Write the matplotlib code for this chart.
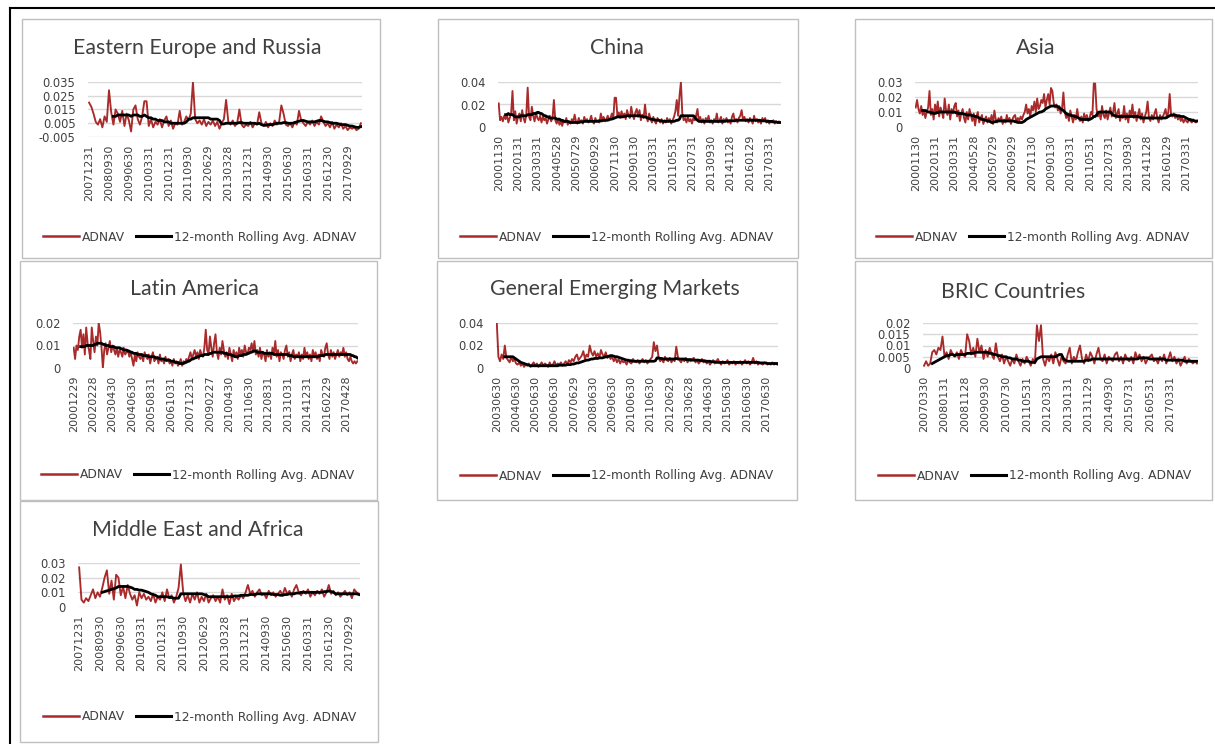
import numpy as np
import matplotlib
matplotlib.use('Agg')
import matplotlib.pyplot as plt
from matplotlib.patches import Rectangle
from matplotlib.lines import Line2D

# ---------------- data (values in units of 0.001) ----------------
# Eastern Europe and Russia (monthly from 2007-12)
adnav_ee = [20, 17, 12, 6, 4, 8, 2, 10, 6, 29,
            13, 4, 15, 12, 6, 14, 3, 12, 7, -1,
            15, 18, 8, 4, 10, 21, 21, 3, 8, 2,
            6, 4, 8, 2, 7, 10, 3, 7, 1, 5,
            4, 14, 4, 6, 10, 7, 12, 35, 8, 5,
            7, 4, 8, 3, 6, 4, 7, 3, 6, 1,
            5, 8, 22, 6, 4, 7, 3, 5, 15, 4,
            2, 4, 3, 6, 2, 5, 4, 13, 5, 3,
            6, 2, 5, 3, 7, 4, 6, 18, 12, 4,
            3, 5, 2, 6, 4, 14, 7, 5, 3, 6,
            4, 7, 3, 6, 4, 10, 6, 3, 5, 2,
            6, 1, 4, 2, 5, 1, 3, 0, 2, 1,
            2, 0, 1, 5]
roll_ee = [10, 10, 11, 11, 11, 11, 11, 11, 10,
           11, 11, 11, 10, 10, 11, 10, 9, 9, 8,
           8, 7, 7, 7, 6, 6, 6, 5, 5, 5,
           5, 5, 5, 5, 6, 8, 8, 9, 9, 9,
           9, 9, 9, 9, 9, 8, 8, 8, 8, 7,
           4.5, 4.5, 5, 5, 5, 5, 5, 5, 5.5, 5.5,
           5, 5, 5, 5, 5, 5, 4.5, 5, 4, 3.5,
           3.5, 4, 4, 4, 4.5, 5, 5, 5, 5.5, 5.5,
           5, 5, 5, 5.5, 6, 6.5, 7, 7, 6.5, 6,
           6, 6, 6, 6.5, 7, 7, 6.5, 6, 6, 5.5,
           5, 5, 5, 4.5, 4, 4, 4, 3.5, 3, 3,
           2.5, 2, 2, 2.5]

# China (monthly from 2000-11)
adnav_cn = [21, 6, 9, 5, 10, 7, 11, 4, 8, 12,
            32, 6, 14, 3, 9, 12, 5, 15, 8, 4,
            11, 35, 9, 6, 18, 10, 5, 13, 8, 6,
            10, 4, 9, 6, 8, 3, 7, 10, 5, 8,
            24, 6, 3, 7, 2, 5, 1, 6, 4, 8,
            2, 5, 3, 7, 4, 11, 5, 3, 8, 4,
            6, 3, 9, 5, 7, 4, 6, 10, 5, 3,
            8, 5, 6, 4, 12, 6, 9, 5, 7, 10,
            6, 8, 12, 7, 26, 26, 10, 13, 8, 14,
            9, 12, 7, 15, 10, 8, 18, 11, 7, 13,
            16, 9, 15, 6, 11, 8, 20, 9, 5, 12,
            7, 4, 9, 5, 3, 8, 6, 4, 7, 3,
            6, 4, 8, 5, 7, 3, 6, 9, 14, 24,
            10, 28, 40, 12, 6, 8, 4, 9, 5, 7,
            3, 8, 6, 10, 16, 5, 9, 4, 7, 3,
            8, 5, 10, 4, 6, 3, 7, 5, 12, 4,
            6, 9, 3, 7, 5, 8, 4, 6, 3, 9,
            12, 5, 7, 4, 8, 10, 15, 6, 9, 5,
            7, 4, 8, 6, 3, 10, 5, 7, 4, 6,
            3, 8, 5, 8, 4, 6, 3, 5, 4, 6,
            3, 5, 4, 5, 4]
roll_cn = [11, 11, 12, 11, 11,
           11, 10, 9, 9, 9, 9, 10, 10, 10, 10,
           10, 11, 11, 11, 11, 12, 12, 12, 13, 13,
           12, 12, 11, 10, 10, 9, 9, 8, 8, 8,
           8, 8, 7, 7, 7, 6, 6, 5, 5, 5,
           5, 4.5, 4, 4, 4, 4, 4, 4, 4, 4.5,
           4.5, 4.5, 5, 5, 5, 5, 5, 5, 5, 5,
           5, 5, 5, 5.5, 5.5, 5.5, 6, 6, 6, 6,
           6.5, 7, 7, 7.5, 8, 8.5, 9, 9, 9, 9,
           9, 9.5, 9.5, 10, 10, 10, 10, 10, 10, 10,
           10, 10, 10, 9.5, 9.5, 9, 9, 8.5, 8, 7.5,
           7, 7, 6.5, 6.5, 6, 6, 6, 5.5, 5.5, 5,
           5, 5, 5, 5, 5, 5, 5, 5, 5.5, 6,
           6, 7, 10, 10, 10, 10, 10, 10, 10, 10,
           10, 10, 9, 7, 6, 5, 5, 5, 5, 5,
           5, 5, 5, 5, 5, 5, 5, 5, 5, 5,
           5, 5, 5, 5, 5, 5.5, 5.5, 5.5, 5.5, 5.5,
           5.5, 5.5, 6, 6, 6, 6, 6, 6, 6, 6,
           6, 6, 6, 6, 6, 6, 6, 6, 6, 6,
           5.5, 5.5, 5.5, 5.5, 5, 5, 5, 5, 5, 4.5,
           4.5, 4.5, 4, 4, 4]

# Asia (monthly from 2000-11)
adnav_as = [13, 18, 12, 9, 14, 8, 11, 6, 10, 13,
            24, 8, 12, 5, 15, 9, 17, 7, 13, 10,
            6, 19, 11, 8, 15, 5, 12, 9, 14, 16,
            7, 11, 4, 9, 12, 6, 3, 10, 5, 12,
            8, 4, 9, 1, 7, 10, 3, 6, 8, 2,
            5, 7, 3, 6, 4, 8, 2, 11, 5, 3,
            6, 4, 7, 2, 5, 3, 8, 4, 6, 2,
            5, 7, 8, 3, 6, 4, 7, 5, 8, 10,
            15, 9, 12, 7, 14, 11, 17, 10, 19, 12,
            14, 18, 16, 22, 13, 18, 22, 15, 26, 24,
            16, 13, 15, 11, 14, 9, 12, 23, 10, 6,
            9, 4, 11, 7, 3, 8, 5, 12, 6, 4,
            7, 3, 9, 5, 8, 4, 6, 10, 8, 29,
            29, 12, 7, 10, 5, 14, 8, 6, 11, 5,
            9, 13, 7, 10, 16, 6, 9, 12, 4, 8,
            6, 14, 5, 9, 3, 11, 7, 15, 6, 10,
            4, 8, 12, 5, 9, 3, 7, 10, 17, 6,
            4, 8, 5, 9, 12, 6, 3, 8, 5, 7,
            9, 12, 6, 10, 22, 8, 7, 9, 6, 8,
            5, 7, 4, 6, 3, 5, 4, 3, 5, 4,
            3, 5, 4, 3, 4]
roll_as = [11, 11, 11, 10.5, 10,
           10, 9.5, 9.5, 9, 9, 9.5, 9.5, 10, 10, 10,
           10, 10, 10, 10, 10, 10, 10, 10, 10, 9.5,
           9.5, 9, 9, 9, 9, 8.5, 8.5, 8, 8, 8,
           8, 7.5, 7.5, 7, 7, 6.5, 6, 5.5, 5, 5,
           4.5, 4.5, 4, 4, 3.5, 3, 3, 3.5, 3.5, 4,
           4, 4, 4, 4, 4, 4, 4, 4, 4, 4,
           4, 4, 3.5, 3.5, 3, 3, 3, 3, 3.5, 4,
           5, 5.5, 6, 6.5, 7, 7.5, 8, 8.5, 9, 9.5,
           10, 10, 10.5, 11, 12, 12.5, 13, 13.5, 14, 14,
           14, 14, 14, 13.5, 13, 12, 11.5, 11, 10, 9,
           8.5, 8, 8, 7.5, 7.5, 7, 7, 6.5, 6, 5.5,
           5, 5, 5, 5, 5, 5, 5, 5.5, 6, 7,
           7, 8, 9.5, 10, 10, 10, 10, 10, 10, 10,
           10, 10, 9, 8, 7.5, 7.5, 7, 7, 7, 7,
           7, 7, 7, 7, 7, 7, 7, 7, 7, 7,
           7, 7, 6.5, 6.5, 6, 6, 6, 6, 6, 6,
           6, 6, 6, 6, 6, 6, 6, 6, 6, 6,
           6, 6, 6.5, 7, 7.5, 8, 8, 8, 8, 7.5,
           7.5, 7.5, 7, 7, 7, 6.5, 6, 5.5, 5, 5,
           4.5, 4.5, 4, 4, 4]

# Latin America (monthly from 2000-12)
adnav_la = [9, 4, 10, 8, 14, 17, 9, 15, 6, 18,
            11, 8, 4, 18, 12, 7, 14, 10, 20, 16,
            9, 0, 8, 11, 6, 9, 12, 7, 10, 8,
            6, 9, 5, 8, 7, 5, 9, 6, 7, 8,
            5, 7, 4, 1, 6, 3, 7, 5, 4, 6,
            3, 7, 5, 4, 6, 2, 5, 7, 3, 4,
            5, 2, 6, 3, 4, 2, 5, 3, 4, 2,
            3, 1, 4, 2, 3, 1, 2, 4, 1, 3,
            2, 4, 3, 5, 7, 4, 6, 8, 5, 7,
            4, 8, 6, 5, 9, 17, 8, 6, 14, 9,
            5, 11, 15, 7, 4, 9, 6, 12, 8, 5,
            7, 4, 9, 6, 3, 8, 5, 7, 4, 9,
            6, 8, 5, 10, 7, 6, 9, 8, 11, 7,
            12, 6, 8, 5, 9, 4, 7, 6, 3, 8,
            5, 7, 4, 9, 6, 12, 5, 8, 3, 7,
            6, 4, 8, 10, 5, 7, 3, 6, 8, 4,
            6, 5, 7, 3, 6, 4, 9, 5, 7, 4,
            6, 3, 8, 5, 7, 4, 6, 3, 8, 6,
            5, 9, 11, 6, 4, 8, 5, 7, 4, 6,
            8, 5, 7, 6, 9, 5, 7, 4, 3, 5,
            3, 2, 3, 2, 3]
roll_la = [9.5, 9.5, 9.5, 9.5, 10,
           10, 10, 10, 10, 10, 10.5, 10.5, 11, 11, 11,
           11, 10.5, 10.5, 10, 10, 10, 9.5, 9.5, 9.5, 9.5,
           9, 9, 9, 9, 8.5, 8.5, 8, 8, 8, 7.5,
           7.5, 7, 7, 6.5, 6.5, 6.5, 6, 6, 6, 6,
           5.5, 5.5, 5.5, 5.5, 5, 5, 5, 5, 5, 4.5,
           4.5, 4.5, 4, 4, 4, 4, 3.5, 3.5, 3.5, 3.5,
           3, 3, 3, 2.5, 2.5, 2.5, 2, 2, 2, 2,
           2.5, 2.5, 3, 3, 3.5, 4, 4, 4.5, 4.5, 5,
           5, 5.5, 5.5, 5.5, 6, 6, 6, 6, 6.5, 6.5,
           7, 7, 7, 7, 7, 7, 7, 7, 6.5, 6.5,
           6.5, 6, 6, 6, 5.5, 5.5, 5, 5, 5, 5.5,
           5.5, 5.5, 6, 6, 6, 6.5, 6.5, 7, 7, 7.5,
           7.5, 7.5, 7, 7, 7, 7, 7, 6.5, 6.5, 6.5,
           6.5, 6.5, 6.5, 6.5, 6, 6, 6, 6, 6, 6,
           6, 6, 6, 6, 6, 5.5, 5.5, 5.5, 5, 5,
           5, 5, 5, 5, 5, 5, 5, 5, 5, 5,
           5, 5, 5, 5, 5, 5, 5, 5.5, 5.5, 5.5,
           5.5, 6, 6, 6, 6, 6, 6, 6, 6, 6,
           6, 6, 6, 6, 6, 6, 6, 6, 6, 6,
           5.5, 5.5, 5, 5, 4.5]

# General Emerging Markets (monthly from 2003-06)
adnav_gem = [40, 10, 6, 12, 8, 20, 9, 7, 5, 10,
             6, 8, 4, 3, 5, 2, 4, 1, 3, 2,
             4, 1, 3, 5, 2, 4, 1, 3, 5, 2,
             4, 3, 1, 5, 2, 3, 6, 2, 4, 3,
             5, 2, 4, 6, 3, 7, 5, 8, 6, 10,
             12, 7, 9, 11, 15, 8, 12, 10, 20, 14,
             11, 15, 10, 13, 9, 16, 12, 10, 14, 9,
             11, 8, 10, 6, 9, 5, 8, 4, 7, 5,
             6, 3, 7, 5, 4, 8, 6, 5, 7, 4,
             6, 8, 5, 7, 4, 6, 8, 10, 23, 15,
             20, 9, 6, 8, 5, 10, 7, 6, 9, 5,
             8, 6, 19, 10, 7, 5, 8, 6, 9, 5,
             7, 6, 8, 9, 5, 7, 4, 6, 8, 5,
             7, 4, 6, 3, 5, 7, 4, 6, 8, 5,
             3, 6, 4, 5, 7, 3, 5, 4, 6, 3,
             5, 4, 6, 3, 5, 7, 4, 6, 3, 5,
             9, 4, 6, 3, 5, 4, 3, 5, 4, 3,
             4, 3, 5, 3, 4, 3]
roll_gem = [10, 10, 10, 10, 10,
            10, 9, 8, 7, 6, 5, 4.5, 4, 3.5, 3,
            2.5, 2, 2, 2, 2, 2, 2, 2, 2, 2,
            2, 2, 2, 2, 2, 2, 2, 2, 2, 2.5,
            2.5, 2.5, 2.5, 2.5, 3, 3, 3, 3.5, 3.5, 4,
            4.5, 4.5, 5, 5.5, 6, 6.5, 7, 7, 7.5, 8,
            8, 8.5, 8.5, 8.5, 9, 9, 9, 9.5, 10, 10,
            10.5, 11, 11, 10.5, 10, 10, 9.5, 9, 8.5, 8,
            7.5, 7, 7, 6.5, 6.5, 6, 6, 6, 6, 6,
            6, 6, 6, 6, 6, 6, 6, 6, 6, 6.5,
            9, 9, 8.5, 8.5, 8, 8, 8, 8, 8, 8,
            8, 8, 8.5, 8, 8, 8, 8, 8, 7.5, 7.5,
            7.5, 7.5, 7, 7, 7, 7, 7, 6.5, 6.5, 6.5,
            6, 6, 6, 6, 5.5, 5.5, 5.5, 5, 5, 5,
            5, 5, 5, 5, 5, 5, 5, 5, 5, 5,
            5, 5, 5, 5, 5, 5, 5, 5, 5, 5,
            5, 5, 5, 5, 4.5, 4.5, 4.5, 4.5, 4.5, 4,
            4, 4, 4, 4, 4, 4]

# BRIC Countries (monthly from 2007-03)
adnav_bric = [1, 3, 1, 2, 7, 8, 6, 9, 8, 14,
              5, 7, 4, 8, 6, 5, 7, 4, 8, 6,
              5, 15, 12, 6, 9, 5, 13, 7, 10, 4,
              8, 5, 9, 6, 4, 11, 5, 3, 6, 2,
              5, 3, 1, 4, 2, 6, 3, 1, 4, 2,
              5, 3, 1, 4, 2, 19, 12, 19, 4, 1,
              5, 3, 6, 2, 7, 4, 1, 5, 3, 2,
              6, 9, 2, 5, 3, 7, 10, 4, 2, 6,
              3, 7, 5, 2, 6, 9, 4, 3, 6, 2,
              5, 4, 3, 6, 7, 3, 5, 2, 6, 4,
              3, 5, 2, 7, 4, 6, 3, 5, 2, 4,
              5, 6, 3, 4, 2, 5, 3, 6, 2, 4,
              7, 3, 5, 2, 4, 1, 3, 5, 2, 4,
              3, 2, 3, 2]
roll_bric = [2, 2.5, 3, 3.5, 4, 4.5,
             5, 5.5, 5.5, 6, 6, 5.5, 6, 6, 6, 6,
             6, 6.5, 6.5, 6.5, 6.5, 7, 7, 7, 7, 7,
             7, 7, 6.5, 6.5, 6, 6, 5.5, 5.5, 5, 5,
             5, 4.5, 4.5, 4, 4, 4, 3.5, 3.5, 3, 3,
             3, 3, 2.5, 2.5, 2.5, 4, 4.5, 5, 5, 5,
             5, 5, 5, 5, 5, 5.5, 6, 6, 4, 3.5,
             3, 3, 3, 3, 3, 3, 3, 3, 3, 3.5,
             3.5, 3.5, 4, 4, 4, 4, 4, 4, 4, 4,
             4, 4, 4, 4, 4, 4, 4, 4, 4, 4,
             4, 4, 4, 4, 4, 4.5, 4.5, 4.5, 4.5, 4.5,
             4, 4, 4, 4, 4, 4, 4, 4, 3.5, 3.5,
             3.5, 3.5, 3.5, 3.5, 3.5, 3.5, 3.5, 3, 3, 3,
             3, 3, 3, 3]

# Middle East and Africa (monthly from 2007-12)
adnav_mea = [27, 5, 3, 6, 4, 8, 12, 6, 10, 7,
             13, 20, 25, 9, 18, 5, 22, 20, 8, 14,
             6, 15, 9, 5, 8, 1, 10, 6, 9, 5,
             7, 4, 9, 3, 7, 5, 10, 4, 12, 6,
             8, 3, 7, 13, 29, 10, 4, 8, 3, 9,
             5, 10, 3, 7, 4, 9, 3, 6, 8, 4,
             7, 3, 12, 5, 8, 2, 9, 4, 7, 5,
             8, 6, 10, 15, 9, 11, 7, 10, 12, 8,
             9, 6, 11, 8, 10, 7, 9, 11, 8, 13,
             9, 11, 7, 12, 15, 10, 8, 11, 9, 12,
             7, 10, 8, 11, 9, 12, 7, 10, 15, 9,
             11, 8, 10, 7, 9, 11, 8, 10, 6, 12,
             10, 9]
roll_mea = [10, 10.5, 11, 11.5, 12, 12.5, 13, 14, 14, 14,
            14, 14, 13.5, 13, 12, 12, 11.5, 11.5, 11, 10.5,
            10, 9, 8.5, 8, 7, 7, 7, 7, 7, 6.5,
            6.5, 6, 6, 6, 9, 9, 9, 9, 9, 9,
            9, 9, 9, 9, 8.5, 8, 7, 7, 7, 7,
            7, 7, 7, 7, 7, 7, 7, 7.5, 7.5, 7.5,
            8, 8, 8, 8, 8.5, 8.5, 8.5, 9, 9, 9,
            9, 9, 9, 9, 8.5, 8.5, 8.5, 8, 8, 8.5,
            8.5, 9, 9, 9, 9.5, 9.5, 10, 10, 10, 10,
            10, 10, 10, 10, 10, 10, 10.5, 10.5, 11, 10.5,
            10, 9, 9, 9, 9, 9, 9, 9, 9, 9,
            9, 8.5]

titles = ["Eastern Europe and Russia", "China", "Asia", "Latin America",
          "General Emerging Markets", "BRIC Countries", "Middle East and Africa"]

xlab_ee = ['20071231', '20080930', '20090630', '20100331', '20101231', '20110930', '20120629',
           '20130328', '20131231', '20140930', '20150630', '20160331', '20161230', '20170929']
xlab_cn = ['20001130', '20020131', '20030331', '20040528', '20050729', '20060929', '20071130',
           '20090130', '20100331', '20110531', '20120731', '20130930', '20141128', '20160129', '20170331']
xlab_la = ['20001229', '20020228', '20030430', '20040630', '20050831', '20061031', '20071231',
           '20090227', '20100430', '20110630', '20120831', '20131031', '20141231', '20160229', '20170428']
xlab_gem = ['20030630', '20040630', '20050630', '20060630', '20070629', '20080630', '20090630',
            '20100630', '20110630', '20120629', '20130628', '20140630', '20150630', '20160630', '20170630']
xlab_bric = ['20070330', '20080131', '20081128', '20090930', '20100730', '20110531', '20120330',
             '20130131', '20131129', '20140930', '20150731', '20160531', '20170331']

yt_ee = [-0.005, 0.005, 0.015, 0.025, 0.035]
yl_ee = ['-0.005', '0.005', '0.015', '0.025', '0.035']
yt_04 = [0, 0.02, 0.04]
yl_04 = ['0', '0.02', '0.04']
yt_03 = [0, 0.01, 0.02, 0.03]
yl_03 = ['0', '0.01', '0.02', '0.03']
yt_02 = [0, 0.01, 0.02]
yl_02 = ['0', '0.01', '0.02']
yt_bric = [0, 0.005, 0.01, 0.015, 0.02]
yl_bric = ['0', '0.005', '0.01', '0.015', '0.02']

legend_labels = ['ADNAV', '12-month Rolling Avg. ADNAV']

# ---------------- layout ----------------
W, H = 1215, 744
fig = plt.figure(figsize=(W / 100, H / 100), dpi=100)
fig.patch.set_facecolor('white')


def frect(l, t, r, b):
    return [l / W, 1 - b / H, (r - l) / W, (b - t) / H]


RED = '#A82A2A'
TXT = '#404040'
GRID = '#D9D9D9'

panels = [
    dict(title=titles[0], red=adnav_ee, roll=roll_ee, xl=xlab_ee, step=9, yt=yt_ee, yl=yl_ee,
         box=(22, 19, 380, 258), plot=(88, 82, 362, 137), tpos=(197, 48), lpos=(200, 237)),
    dict(title=titles[1], red=adnav_cn, roll=roll_cn, xl=xlab_cn, step=14, yt=yt_04, yl=yl_04,
         box=(438, 19, 798, 258), plot=(498, 82, 781, 127), tpos=(617, 48), lpos=(617, 237)),
    dict(title=titles[2], red=adnav_as, roll=roll_as, xl=xlab_cn, step=14, yt=yt_03, yl=yl_03,
         box=(855, 19, 1212, 258), plot=(915, 82, 1198, 127), tpos=(1036, 48), lpos=(1033, 237)),
    dict(title=titles[3], red=adnav_la, roll=roll_la, xl=xlab_la, step=14, yt=yt_02, yl=yl_02,
         box=(20, 261, 377, 500), plot=(73, 323, 358, 368), tpos=(194, 289), lpos=(198, 475)),
    dict(title=titles[4], red=adnav_gem, roll=roll_gem, xl=xlab_gem, step=12, yt=yt_04, yl=yl_04,
         box=(437, 261, 797, 500), plot=(496, 323, 778, 368), tpos=(615, 289), lpos=(617, 476)),
    dict(title=titles[5], red=adnav_bric, roll=roll_bric, xl=xlab_bric, step=10, yt=yt_bric, yl=yl_bric,
         box=(855, 261, 1212, 500), plot=(923, 323, 1198, 368), tpos=(1013, 292), lpos=(1035, 476)),
    dict(title=titles[6], red=adnav_mea, roll=roll_mea, xl=xlab_ee, step=9, yt=yt_03, yl=yl_03,
         box=(20, 501, 378, 742), plot=(78, 563, 360, 607), tpos=(198, 530), lpos=(200, 717)),
]

# outer frame (top and left)
fig.add_artist(Line2D([10 / W, 1.0], [1 - 8 / H, 1 - 8 / H], transform=fig.transFigure,
                      color='black', lw=1.5))
fig.add_artist(Line2D([10 / W, 10 / W], [1 - 8 / H, 0.0], transform=fig.transFigure,
                      color='black', lw=1.5))

for p in panels:
    l, t, r, b = p['box']
    fig.add_artist(Rectangle((l / W, 1 - b / H), (r - l) / W, (b - t) / H,
                             transform=fig.transFigure, fill=False, edgecolor='#BFBFBF', lw=1.0))
    ax = fig.add_axes(frect(*p['plot']))
    red = np.asarray(p['red'], dtype=float) / 1000.0
    roll = np.asarray(p['roll'], dtype=float) / 1000.0
    n = len(red)
    x = np.arange(n)
    xr = np.arange(n - len(roll), n)
    ax.plot(x, red, color=RED, lw=1.35, solid_joinstyle='round', zorder=3)
    ax.plot(xr, roll, color='black', lw=2.0, solid_joinstyle='round', zorder=4)
    ax.set_xlim(-0.5, n - 0.5)
    ax.set_ylim(p['yt'][0], p['yt'][-1])
    ax.set_yticks(p['yt'])
    ax.set_yticklabels(p['yl'])
    ticks = np.arange(len(p['xl'])) * p['step']
    ax.set_xticks(ticks)
    ax.set_xticklabels(p['xl'], rotation=90)
    for s in ax.spines.values():
        s.set_visible(False)
    ax.grid(axis='y', color=GRID, lw=1.0, zorder=0)
    ax.set_axisbelow(True)
    ax.tick_params(axis='both', length=0, colors=TXT)
    ax.tick_params(axis='y', labelsize=8.3, pad=9)
    ax.tick_params(axis='x', labelsize=8.0, pad=5.5)
    for lab in ax.get_xticklabels() + ax.get_yticklabels():
        lab.set_family('DejaVu Sans')
    ax.set_facecolor('none')
    fig.text(p['tpos'][0] / W, 1 - p['tpos'][1] / H, p['title'], ha='center', va='center',
             fontsize=15.3, family='Lato', color=TXT)
    handles = [Line2D([], [], color=RED, lw=1.8), Line2D([], [], color='black', lw=2.2)]
    fig.legend(handles, legend_labels, loc='center',
               bbox_to_anchor=(p['lpos'][0] / W, 1 - p['lpos'][1] / H),
               ncol=2, frameon=False, handlelength=2.9, handletextpad=0.25, columnspacing=0.9,
               prop={'family': 'DejaVu Sans', 'size': 8.8}, labelcolor=TXT,
               borderaxespad=0, borderpad=0)

fig.savefig('out.png', dpi=100, facecolor='white')
